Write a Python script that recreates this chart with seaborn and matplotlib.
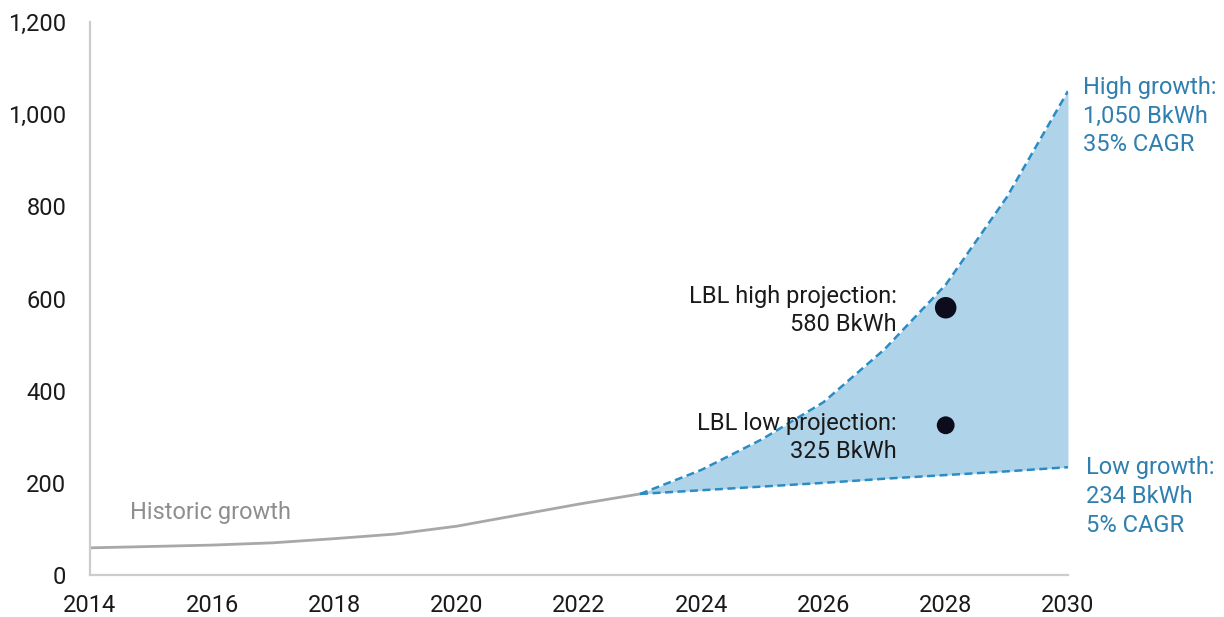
import matplotlib
matplotlib.use("Agg")
import matplotlib.pyplot as plt
import seaborn as sns
import pandas as pd

# Data centre electricity use (billion kWh)
hist_years = [2014, 2015, 2016, 2017, 2018, 2019, 2020, 2021, 2022, 2023]
hist_values = [59, 62, 65, 70, 79, 89, 106, 130, 154, 176]

proj_years = [2023, 2024, 2025, 2026, 2027, 2028, 2029, 2030]
high_values = [176, 228, 295, 375, 490, 630, 820, 1050]
low_values = [176, 184, 192, 200, 209, 217, 225, 234]

lbl_years = [2028, 2028]
lbl_values = [580, 325]
lbl_sizes = [240, 165]

x_ticks = [2014, 2016, 2018, 2020, 2022, 2024, 2026, 2028, 2030]
y_ticks = [0, 200, 400, 600, 800, 1000, 1200]

sns.set_theme(style="white")
plt.rcParams["font.family"] = ["Roboto", "DejaVu Sans"]

BLUE_LINE = "#2b8cc4"
BLUE_FILL = "#afd4ea"
BLUE_TEXT = "#2f7faf"
GREY_LINE = "#a8a8a8"
GREY_TEXT = "#8e8e8e"
DARK = "#0c0c1c"

fig = plt.figure(figsize=(12.24, 6.17), dpi=100)
ax = fig.add_axes([0.0735, 0.068, 0.799, 0.8963])

hist = pd.DataFrame({"year": hist_years, "value": hist_values})
proj = pd.DataFrame({"year": proj_years, "high": high_values, "low": low_values})

ax.fill_between(proj["year"], proj["low"], proj["high"], color=BLUE_FILL, lw=0, zorder=1)
sns.lineplot(data=hist, x="year", y="value", ax=ax, color=GREY_LINE, lw=2, zorder=2)
sns.lineplot(data=proj, x="year", y="high", ax=ax, color=BLUE_LINE, lw=1.8,
             linestyle=(0, (3.2, 1.8)), zorder=3)
sns.lineplot(data=proj, x="year", y="low", ax=ax, color=BLUE_LINE, lw=1.8,
             linestyle=(0, (3.2, 1.8)), zorder=3)
ax.scatter(lbl_years, lbl_values, s=lbl_sizes, color=DARK, zorder=4, linewidths=0)

ax.set_xlim(2014, 2030)
ax.set_ylim(0, 1200)
ax.set_xticks(x_ticks)
ax.set_yticks(y_ticks)
ax.set_yticklabels([f"{v:,}" for v in y_ticks])
ax.set_xlabel("")
ax.set_ylabel("")
fs = 17
ax.tick_params(axis="both", length=0, labelsize=fs, colors="#1a1a1a")
ax.tick_params(axis="x", pad=14)
ax.tick_params(axis="y", pad=17)
for side in ["top", "right"]:
    ax.spines[side].set_visible(False)
for side in ["left", "bottom"]:
    ax.spines[side].set_color("#cccccc")
    ax.spines[side].set_linewidth(1.6)

ax.text(2014.65, 135, "Historic growth", color=GREY_TEXT, fontsize=fs, va="center", ha="left")
ax.text(2027.2, 574, "LBL high projection:\n580 BkWh", color="#1a1a1a", fontsize=fs,
        ha="right", va="center", linespacing=1.3)
ax.text(2027.2, 298, "LBL low projection:\n325 BkWh", color="#1a1a1a", fontsize=fs,
        ha="right", va="center", linespacing=1.3)
ax.text(2030.24, 996, "High growth:\n1,050 BkWh\n35% CAGR", color=BLUE_TEXT, fontsize=fs,
        ha="left", va="center", linespacing=1.33)
ax.text(2030.3, 170, "Low growth:\n234 BkWh\n5% CAGR", color=BLUE_TEXT, fontsize=fs,
        ha="left", va="center", linespacing=1.33)

fig.savefig("out.png", dpi=100)
